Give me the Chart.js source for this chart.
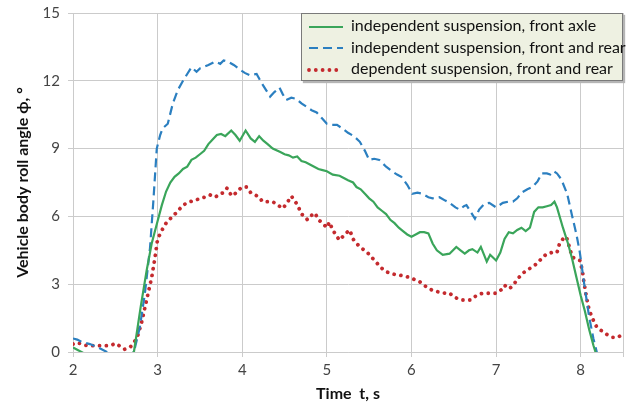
<!DOCTYPE html>
<html>
<head>
<meta charset="utf-8">
<script src="https://cdn.jsdelivr.net/npm/chart.js@4/dist/chart.umd.min.js"></script>
<style>
	body { margin: 0; background: #fff; }
	#wrap { position: relative; width: 631px; height: 405px; }
	#legend {
		position: absolute; left: 301px; top: 13px; width: 320px; height: 66px;
		background: #eef1e2; border: 1px solid #7a7a7a;
		box-shadow: 2px 2px 1px #b5b5b5;
		font-family: Lato, sans-serif; font-size: 16px; color: #111;
	}
	#legend div { position: absolute; left: 5px; height: 20px; line-height: 20px; white-space: nowrap; }
	#legend svg { vertical-align: middle; margin-right: 7px; }
</style>
</head>
<body>
<div id="wrap">
	<canvas id="c" width="631" height="405"></canvas>
	<div id="legend"></div>
</div>
<script>
// x axis: time, s ; y axis: roll angle, deg
const xTicks = [2, 3, 4, 5, 6, 7, 8];
const yTicks = [0, 3, 6, 9, 12, 15];

const seriesNames = [
	"independent suspension, front axle",
	"independent suspension, front and rear",
	"dependent suspension, front and rear"
];

const frontT = [2.0, 2.05, 2.1, 2.2, 2.4, 2.6, 2.7, 2.72, 2.8, 2.87, 2.93, 3.0, 3.05, 3.1, 3.15, 3.2, 3.25, 3.3, 3.35, 3.4, 3.45, 3.5, 3.55, 3.6, 3.65, 3.7, 3.75, 3.8, 3.87, 3.92, 3.97, 4.04, 4.1, 4.15, 4.2, 4.25, 4.3, 4.36, 4.45, 4.5, 4.55, 4.6, 4.65, 4.7, 4.75, 4.8, 4.85, 4.9, 4.95, 5.0, 5.07, 5.15, 5.2, 5.25, 5.31, 5.35, 5.4, 5.45, 5.5, 5.55, 5.6, 5.65, 5.7, 5.75, 5.8, 5.85, 5.9, 5.95, 6.0, 6.05, 6.1, 6.15, 6.2, 6.25, 6.3, 6.37, 6.45, 6.53, 6.58, 6.63, 6.68, 6.72, 6.78, 6.82, 6.89, 6.93, 7.0, 7.05, 7.1, 7.15, 7.2, 7.25, 7.3, 7.35, 7.4, 7.45, 7.5, 7.55, 7.6, 7.65, 7.69, 7.72, 7.79, 7.85, 7.9, 7.95, 8.0, 8.05, 8.1, 8.15, 8.2];
const frontV = [0.2, 0.1, 0.0, -0.2, -0.3, -0.2, -0.05, 0.0, 2.0, 3.6, 4.8, 5.8, 6.5, 7.1, 7.5, 7.75, 7.9, 8.1, 8.2, 8.5, 8.6, 8.75, 8.9, 9.2, 9.4, 9.6, 9.65, 9.55, 9.8, 9.6, 9.35, 9.8, 9.45, 9.3, 9.55, 9.35, 9.2, 9.0, 8.85, 8.75, 8.7, 8.6, 8.65, 8.45, 8.4, 8.3, 8.2, 8.1, 8.05, 8.0, 7.85, 7.8, 7.7, 7.6, 7.5, 7.3, 7.2, 7.0, 6.8, 6.65, 6.4, 6.25, 6.1, 5.85, 5.7, 5.5, 5.35, 5.2, 5.1, 5.2, 5.3, 5.3, 5.25, 4.8, 4.5, 4.3, 4.35, 4.65, 4.5, 4.35, 4.5, 4.55, 4.4, 4.65, 4.0, 4.3, 4.05, 4.4, 5.0, 5.3, 5.25, 5.4, 5.5, 5.35, 5.5, 6.2, 6.4, 6.4, 6.45, 6.5, 6.65, 6.4, 5.5, 4.8, 4.1, 3.3, 2.5, 1.8, 1.0, 0.3, -0.3];

const bothT = [2.0, 2.05, 2.1, 2.15, 2.2, 2.3, 2.4, 2.5, 2.6, 2.7, 2.72, 2.79, 2.85, 2.91, 2.95, 2.99, 3.03, 3.06, 3.12, 3.18, 3.24, 3.3, 3.35, 3.4, 3.46, 3.5, 3.54, 3.6, 3.68, 3.74, 3.78, 3.83, 3.9, 3.97, 4.03, 4.09, 4.17, 4.23, 4.28, 4.33, 4.38, 4.44, 4.48, 4.52, 4.58, 4.64, 4.7, 4.76, 4.82, 4.88, 4.94, 5.0, 5.06, 5.12, 5.18, 5.25, 5.32, 5.39, 5.45, 5.5, 5.56, 5.62, 5.7, 5.77, 5.83, 5.88, 5.95, 6.01, 6.07, 6.13, 6.2, 6.25, 6.33, 6.4, 6.45, 6.52, 6.57, 6.62, 6.65, 6.7, 6.75, 6.8, 6.86, 6.92, 7.0, 7.08, 7.14, 7.2, 7.25, 7.3, 7.37, 7.43, 7.49, 7.54, 7.6, 7.64, 7.68, 7.72, 7.77, 7.84, 7.9, 7.95, 7.99, 8.04, 8.1, 8.15, 8.19, 8.22];
const bothV = [0.6, 0.55, 0.45, 0.4, 0.35, 0.2, 0.0, -0.2, -0.2, -0.05, 0.0, 1.1, 2.6, 4.6, 6.7, 9.0, 9.6, 9.9, 10.1, 11.0, 11.6, 12.0, 12.3, 12.6, 12.4, 12.55, 12.6, 12.7, 12.85, 12.75, 12.9, 12.85, 12.7, 12.5, 12.35, 12.25, 12.3, 11.9, 11.6, 11.3, 11.5, 11.7, 11.4, 11.15, 11.25, 11.2, 11.0, 10.85, 10.7, 10.6, 10.35, 10.1, 10.05, 10.05, 9.9, 9.7, 9.55, 9.3, 8.9, 8.5, 8.55, 8.5, 8.2, 8.0, 7.85, 7.75, 7.4, 7.0, 7.05, 7.0, 6.85, 6.8, 6.85, 6.7, 6.6, 6.4, 6.3, 6.45, 6.5, 6.2, 5.9, 6.3, 6.55, 6.6, 6.4, 6.6, 6.65, 6.65, 6.8, 7.05, 7.2, 7.3, 7.55, 7.9, 7.9, 7.85, 8.0, 7.9, 7.65, 7.0, 6.0, 5.2, 4.4, 3.05, 1.55, 0.6, 0.0, -0.5];

const depT = [2.0, 2.02, 2.08, 2.14, 2.2, 2.3, 2.4, 2.45, 2.5, 2.56, 2.61, 2.66, 2.7, 2.76, 2.81, 2.87, 2.93, 2.97, 3.0, 3.06, 3.1, 3.15, 3.23, 3.3, 3.38, 3.44, 3.5, 3.56, 3.62, 3.68, 3.74, 3.78, 3.82, 3.86, 3.89, 3.95, 4.0, 4.05, 4.1, 4.13, 4.2, 4.24, 4.3, 4.36, 4.42, 4.48, 4.53, 4.58, 4.62, 4.66, 4.7, 4.74, 4.77, 4.82, 4.86, 4.9, 4.95, 5.0, 5.03, 5.07, 5.12, 5.15, 5.21, 5.27, 5.31, 5.35, 5.41, 5.48, 5.54, 5.6, 5.65, 5.7, 5.78, 5.86, 5.92, 5.98, 6.04, 6.1, 6.15, 6.21, 6.27, 6.33, 6.4, 6.45, 6.5, 6.55, 6.6, 6.65, 6.7, 6.75, 6.8, 6.84, 6.9, 6.96, 7.0, 7.06, 7.1, 7.16, 7.22, 7.27, 7.32, 7.36, 7.42, 7.48, 7.54, 7.6, 7.66, 7.72, 7.75, 7.8, 7.83, 7.87, 7.9, 7.95, 7.99, 8.02, 8.04, 8.07, 8.1, 8.15, 8.19, 8.26, 8.32, 8.38, 8.44, 8.48];
const depV = [0.35, 0.4, 0.38, 0.3, 0.28, 0.28, 0.28, 0.3, 0.38, 0.25, 0.12, 0.18, 0.3, 0.65, 1.3, 2.3, 3.3, 4.2, 5.0, 5.45, 5.7, 5.9, 6.2, 6.5, 6.65, 6.7, 6.8, 6.85, 6.95, 6.85, 7.0, 7.05, 7.25, 7.0, 6.9, 7.15, 7.3, 7.3, 7.05, 7.0, 6.85, 6.65, 6.65, 6.65, 6.5, 6.35, 6.6, 6.9, 6.7, 6.45, 6.1, 6.0, 5.85, 6.05, 6.15, 5.85, 5.7, 5.5, 5.75, 5.4, 5.1, 4.95, 5.2, 5.4, 5.0, 4.8, 4.6, 4.4, 4.15, 3.9, 3.7, 3.55, 3.45, 3.4, 3.35, 3.3, 3.2, 3.1, 2.95, 2.8, 2.7, 2.65, 2.6, 2.6, 2.45, 2.35, 2.3, 2.3, 2.3, 2.45, 2.55, 2.6, 2.6, 2.6, 2.6, 2.75, 2.95, 2.8, 3.05, 3.3, 3.5, 3.6, 3.75, 3.9, 4.15, 4.35, 4.4, 4.4, 4.8, 5.05, 5.1, 4.6, 4.2, 4.1, 4.05, 3.6, 3.05, 2.4, 1.85, 1.4, 1.1, 0.9, 0.75, 0.65, 0.65, 0.75];

const colors = ["#3aa55a", "#2b7fc0", "#c42a2e"];
const dashes = [[], [9, 5], [0.01, 6.8]];

const pts = (t, v) => t.map((x, i) => ({x: x, y: v[i]}));

const datasets = [
	{label: seriesNames[0], data: pts(frontT, frontV), borderColor: colors[0], borderWidth: 2.2, borderDash: dashes[0]},
	{label: seriesNames[1], data: pts(bothT, bothV), borderColor: colors[1], borderWidth: 2.2, borderDash: dashes[1]},
	{label: seriesNames[2], data: pts(depT, depV), borderColor: colors[2], borderWidth: 3.8, borderDash: dashes[2], borderCapStyle: "round"}
].map(d => Object.assign({pointRadius: 0, tension: 0, fill: false}, d));

const tickFont = {family: "Lato, sans-serif", size: 15};
const gridColor = "#cbcbcb";

new Chart(document.getElementById("c"), {
	type: "line",
	data: {datasets: datasets},
	options: {
		responsive: false,
		animation: false,
		devicePixelRatio: 1,
		layout: {padding: {top: 13, right: 8, left: 0, bottom: 0}},
		plugins: {legend: {display: false}, tooltip: {enabled: false}},
		scales: {
			x: {
				type: "linear", min: 2, max: 8.5,
				afterBuildTicks: s => { s.ticks = xTicks.concat([8.5]).map(v => ({value: v})); },
				afterFit: s => { s.height = 53; s.paddingLeft = 0; s.paddingRight = 0; },
				ticks: {font: tickFont, color: "#444", padding: 4, maxRotation: 0,
					callback: v => (xTicks.includes(v) ? String(v) : "")},
				grid: {color: gridColor, tickLength: 5, lineWidth: 1},
				border: {color: gridColor},
				title: {display: true, text: "Time  t, s", color: "#111",
					font: {family: "Lato, sans-serif", size: 16, weight: "bold"},
					padding: {top: 0, bottom: 2}}
			},
			y: {
				type: "linear", min: 0, max: 15,
				afterBuildTicks: s => { s.ticks = yTicks.map(v => ({value: v})); },
				afterFit: s => { s.width = 73; s.paddingTop = 0; s.paddingBottom = 0; },
				ticks: {font: tickFont, color: "#444", padding: 8},
				grid: {color: gridColor, tickLength: 5, lineWidth: 1},
				border: {color: gridColor},
				title: {display: true, text: "Vehicle body roll angle ϕ, °", color: "#111",
					font: {family: "Lato, sans-serif", size: 16, weight: "bold"},
					padding: {top: 13, bottom: 0}}
			}
		}
	}
});

// legend box sitting inside the plot, top right
const legend = document.getElementById("legend");
seriesNames.forEach((name, i) => {
	const row = document.createElement("div");
	row.style.top = (1 + i * 21.5) + "px";
	const dash = dashes[i].length ? dashes[i].join(" ") : "none";
	const w = i === 2 ? 3.8 : 2.2;
	row.innerHTML = '<svg width="37" height="8"><line x1="2" y1="4" x2="36" y2="4" stroke="' + colors[i] +
		'" stroke-width="' + w + '" stroke-dasharray="' + dash + '" stroke-linecap="' + (i === 2 ? "round" : "butt") + '"/></svg>' + name;
	legend.appendChild(row);
});
</script>
</body>
</html>
